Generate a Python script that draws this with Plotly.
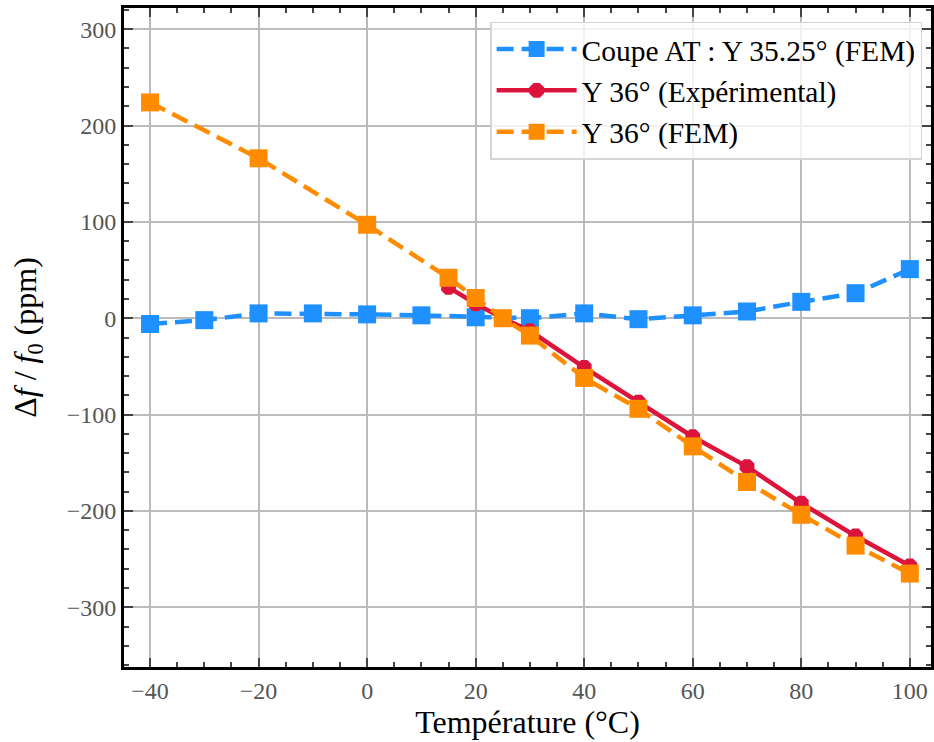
import plotly.graph_objects as go

temp_at = [-40, -30, -20, -10, 0, 10, 20, 30, 40, 50, 60, 70, 80, 90, 100]
df_at = [-6, -2, 5, 5, 4, 3, 1, 0, 5, -1, 3, 7, 17, 26, 51]

temp_exp = [15, 20, 25, 30, 40, 50, 60, 70, 80, 90, 100]
df_exp = [32, 15, 0, -13, -51, -87, -123, -154, -192, -226, -257]

temp_fem = [-40, -20, 0, 15, 20, 25, 30, 40, 50, 60, 70, 80, 90, 100]
df_fem = [224, 166, 97, 42, 21, 0, -18, -62, -94, -133, -170, -204, -236, -265]

names = ["Coupe AT : Y 35.25° (FEM)", "Y 36° (Expérimental)", "Y 36° (FEM)"]

fig = go.Figure()
fig.add_trace(go.Scatter(x=temp_at, y=df_at, name=names[0], mode="lines+markers",
                         line=dict(color="#1E90FF", width=4.5, dash="17px,8px"),
                         marker=dict(symbol="square", size=18, color="#1E90FF")))
fig.add_trace(go.Scatter(x=temp_exp, y=df_exp, name=names[1], mode="lines+markers",
                         line=dict(color="#DC143C", width=4.5),
                         marker=dict(symbol="octagon", size=16, color="#DC143C")))
fig.add_trace(go.Scatter(x=temp_fem, y=df_fem, name=names[2], mode="lines+markers",
                         line=dict(color="#FF8C00", width=4.5, dash="17px,8px"),
                         marker=dict(symbol="square", size=18, color="#FF8C00")))

axis_common = dict(
    showline=True, linecolor="black", linewidth=3, mirror="allticks",
    ticks="inside", ticklen=9, tickwidth=2, tickcolor="#444",
    showgrid=True, gridcolor="#bbbbbb", gridwidth=1.5, zeroline=False,
    automargin=False,
    tickfont=dict(family="Liberation Serif", size=24, color="#555"),
)

fig.update_xaxes(range=[-44.8, 103.9], tickvals=[-40, -20, 0, 20, 40, 60, 80, 100],
                 minor=dict(dtick=5, ticks="inside", ticklen=5, tickwidth=1.5, tickcolor="#444", showgrid=False),
                 title=dict(text="Température (°C)", font=dict(family="Liberation Serif", size=32, color="black"), standoff=4),
                 **axis_common)
fig.update_yaxes(range=[-362, 322], tickvals=[-300, -200, -100, 0, 100, 200, 300],
                 minor=dict(dtick=20, ticks="inside", ticklen=5, tickwidth=1.5, tickcolor="#444", showgrid=False),
                 title=dict(text="Δ<i>f</i> / <i>f</i><sub>0</sub> (ppm)", font=dict(family="Liberation Serif", size=32, color="black"), standoff=21),
                 **axis_common)

fig.update_layout(
    width=934, height=742,
    margin=dict(l=124, r=3, t=8, b=75),
    plot_bgcolor="white", paper_bgcolor="white",
    font=dict(family="Liberation Serif"),
    legend=dict(x=0.989, y=0.979, xanchor="right", yanchor="top",
                bgcolor="rgba(255,255,255,0.8)", bordercolor="#d5d5d5", borderwidth=1.5,
                font=dict(family="Liberation Serif", size=29.5, color="black"),
                itemwidth=80, tracegroupgap=4),
    showlegend=True,
)

fig.write_html("out.html", config={"displayModeBar": False},
               post_script="document.body.style.margin='0';document.body.style.overflow='hidden';")
